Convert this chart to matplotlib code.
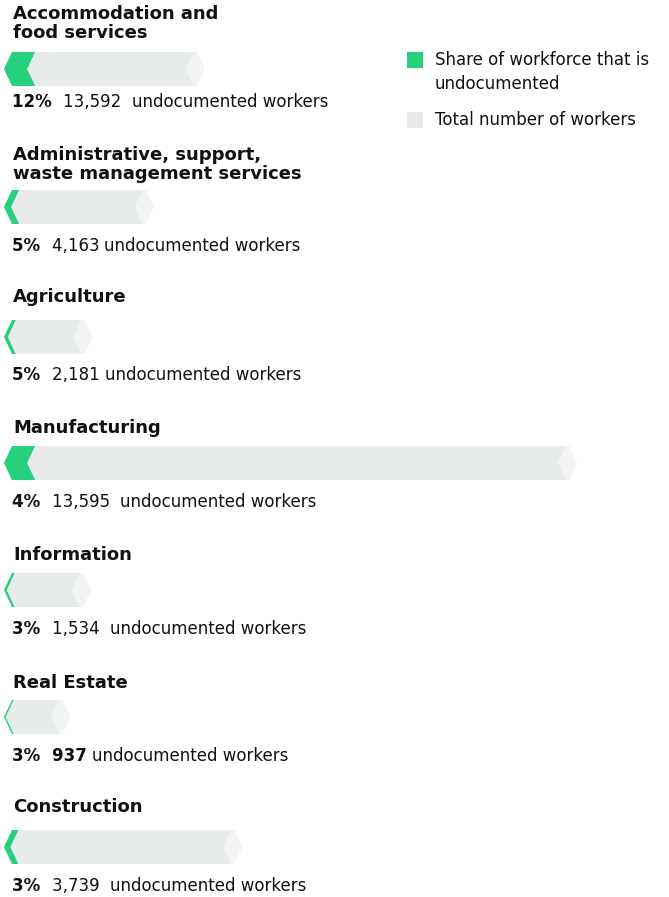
import matplotlib.pyplot as plt
from matplotlib.patches import Polygon, Rectangle

# data (workers in thousands)
industries = ["Accommodation and\nfood services",
              "Administrative, support,\nwaste management services",
              "Agriculture", "Manufacturing", "Information",
              "Real Estate", "Construction"]
share_pct = ["12%", "5%", "5%", "4%", "3%", "3%", "3%"]
undocumented = [13592, 4163, 2181, 13595, 1534, 937, 3739]
total_workers = [107, 77, 41, 326, 40, 28, 129]

GREEN = "#27D07D"
GREY = "#E7ECEB"
LIGHT = "#F2F4F3"
FONT = "DejaVu Sans"
INK = "#111111"

K = 1.7       # pixels per thousand workers
X0 = 4        # pixel position of the arrow's left point
TIP = 8 / K   # arrow tip depth in data units
BAR_H = 34

title_y = [14, 155, 297, 428, 555, 683, 807]
bar_y = [69, 207, 337, 463, 590, 717, 847]
label_y = [101, 245, 374, 501, 628, 755, 885]
num_gap = ["  ", " ", " ", "  ", "  ", " ", "  "]


def px(x):
  return (x - X0) / K


fig = plt.figure(figsize=(6.69, 8.97), dpi=100)
ax = fig.add_axes([0, 0, 1, 1])
ax.set_xlim(px(0), px(669))
ax.set_ylim(897, 0)
ax.axis("off")

for i, name in enumerate(industries):
  yc = bar_y[i]
  top, bot = yc - BAR_H / 2, yc + BAR_H / 2
  L = total_workers[i]
  x1 = TIP + L
  body = [(0, yc), (TIP, top), (x1, top), (x1 - TIP, yc), (x1, bot), (TIP, bot)]
  ax.add_patch(Polygon(body, closed=True, fc=GREY, ec="none"))
  e = 3 / K
  tip = [(x1 - TIP, yc), (x1, top), (x1 + e, top), (x1 + e + TIP, yc), (x1 + e, bot), (x1, bot)]
  ax.add_patch(Polygon(tip, closed=True, fc=LIGHT, ec="none"))
  g = undocumented[i] / 1000
  chev = [(0, yc), (TIP, top), (TIP + g, top), (g, yc), (TIP + g, bot), (TIP, bot)]
  ax.add_patch(Polygon(chev, closed=True, fc=GREEN, ec="none"))

  ax.text(px(13), title_y[i] - 9, name, fontsize=13, fontweight="bold",
          family=FONT, va="top", ha="left", linespacing=1.08, color=INK)

  t1 = ax.text(px(12), label_y[i] + 10, share_pct[i] + "  ", fontsize=12, fontweight="bold",
               family=FONT, va="bottom", ha="left", color=INK)
  num_w = "bold" if undocumented[i] == 937 else "normal"
  t2 = ax.annotate(f"{undocumented[i]:,}" + num_gap[i], xy=(1, 0), xycoords=t1,
                   fontsize=12, fontweight=num_w, family=FONT, va="bottom", ha="left",
                   color=INK)
  ax.annotate("undocumented workers", xy=(1, 0), xycoords=t2, fontsize=12,
              family=FONT, va="bottom", ha="left", color=INK)

# legend
ax.add_patch(Rectangle((px(407), 52), 16 / K, 16, fc=GREEN, ec="none"))
ax.add_patch(Rectangle((px(407), 112), 16 / K, 16, fc=GREY, ec="none"))
ax.text(px(435), 51, "Share of workforce that is\nundocumented", fontsize=12,
        family=FONT, va="top", ha="left", linespacing=1.4, color=INK)
ax.text(px(435), 120, "Total number of workers", fontsize=12, family=FONT,
        va="center", ha="left", color=INK)

fig.savefig("out.png", dpi=100)
